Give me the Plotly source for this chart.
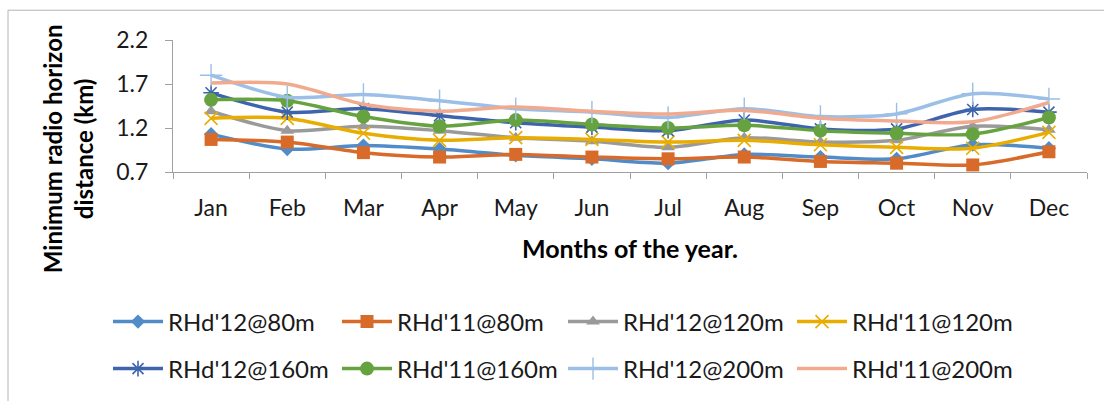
import plotly.graph_objects as go

# Months on the category axis
months = ["Jan", "Feb", "Mar", "Apr", "May", "Jun",
          "Jul", "Aug", "Sep", "Oct", "Nov", "Dec"]

# Minimum radio horizon distance (km) per month
rhd12_80 = [1.13, 0.96, 1.00, 0.96, 0.89, 0.85, 0.80, 0.90, 0.87, 0.85, 1.01, 0.97]
rhd11_80 = [1.07, 1.04, 0.92, 0.87, 0.90, 0.87, 0.85, 0.87, 0.82, 0.80, 0.78, 0.93]
rhd12_120 = [1.39, 1.17, 1.22, 1.17, 1.09, 1.05, 0.98, 1.09, 1.04, 1.06, 1.22, 1.18]
rhd11_120 = [1.31, 1.31, 1.14, 1.06, 1.09, 1.07, 1.04, 1.06, 1.01, 0.98, 0.97, 1.15]
rhd12_160 = [1.60, 1.38, 1.42, 1.34, 1.26, 1.21, 1.17, 1.29, 1.19, 1.19, 1.41, 1.38]
rhd11_160 = [1.52, 1.51, 1.33, 1.22, 1.29, 1.24, 1.20, 1.23, 1.17, 1.14, 1.13, 1.32]
rhd12_200 = [1.80, 1.55, 1.58, 1.51, 1.42, 1.38, 1.32, 1.42, 1.33, 1.36, 1.59, 1.53]
rhd11_200 = [1.71, 1.70, 1.47, 1.39, 1.44, 1.39, 1.36, 1.40, 1.31, 1.28, 1.27, 1.49]

y_ticks = [0.7, 1.2, 1.7, 2.2]

FONT = "Lato"
W, H = 1104, 401
# plot area in pixels
L, R, T, B = 173, 1087, 40, 173


def px_x(p):
    return (p - L) / (R - L)


def px_y(p):
    return (B - p) / (B - T)


series = [
    ("RHd'12@80m", rhd12_80, "#528cc8", dict(symbol="diamond", size=11)),
    ("RHd'11@80m", rhd11_80, "#d86b2a", dict(symbol="square", size=13)),
    ("RHd'12@120m", rhd12_120, "#9a9a9a", dict(symbol="triangle-up", size=12)),
    ("RHd'11@120m", rhd11_120, "#e8ad00", dict(symbol="x-thin-open", size=13, line=dict(width=1.6))),
    ("RHd'12@160m", rhd12_160, "#3d64ad", dict(symbol="asterisk-open", size=13, line=dict(width=1.6))),
    ("RHd'11@160m", rhd11_160, "#66a23f", dict(symbol="circle", size=14)),
    ("RHd'12@200m", rhd12_200, "#9bbfe6", dict(symbol="cross-thin-open", size=16, line=dict(width=1.4))),
    ("RHd'11@200m", rhd11_200, "#f2aa8e", None),
]

# legend slots: (symbol start x, row centre y) in pixels
legend_slots = [(113, 322), (342, 322), (568, 322), (797, 322),
                (113, 369), (342, 369), (568, 369), (797, 369)]

fig = go.Figure()
layout_legends = {}
for i, (name, vals, color, mk) in enumerate(series):
    lname = "legend" if i == 0 else f"legend{i + 1}"
    kw = dict(x=months, y=vals, name=name, legend=lname,
              line=dict(color=color, width=3.5, shape="spline", smoothing=0.8))
    if mk is None:
        kw["mode"] = "lines"
    else:
        m = dict(mk)
        m["color"] = color
        if "line" in m:
            m["line"] = dict(m["line"], color=color)
        kw["mode"] = "lines+markers"
        kw["marker"] = m
    fig.add_trace(go.Scatter(**kw))
    sx, sy = legend_slots[i]
    layout_legends[lname] = dict(
        x=px_x(sx - 5), y=px_y(sy), xanchor="left", yanchor="middle",
        xref="paper", yref="paper", bgcolor="rgba(0,0,0,0)", borderwidth=0,
        font=dict(family=FONT, size=24, color="#1a1a1a"), itemwidth=50,
        orientation="v",
    )

axis_color = "#a0a0a0"
fig.update_layout(
    width=W, height=H,
    margin=dict(l=L, r=W - R, t=T, b=H - B),
    paper_bgcolor="white", plot_bgcolor="white",
    font=dict(family=FONT, size=22, color="#1a1a1a"),
    showlegend=True,
    xaxis=dict(
        type="category", range=[-0.5, 11.5], tickson="boundaries",
        ticks="outside", ticklen=6, tickcolor=axis_color,
        showline=True, linecolor=axis_color, linewidth=1,
        showgrid=False, zeroline=False,
        tickfont=dict(family=FONT, size=23, color="#1a1a1a"),
        ticklabelstandoff=15,
    ),
    yaxis=dict(
        range=[0.7, 2.2], tickvals=y_ticks, ticktext=[f"{v:.1f}" for v in y_ticks],
        ticks="outside", ticklen=7, tickcolor=axis_color,
        showline=True, linecolor=axis_color, linewidth=1,
        showgrid=False, zeroline=False,
        tickfont=dict(family=FONT, size=23, color="#1a1a1a"),
        ticklabelstandoff=12,
    ),
    **layout_legends,
)

# outer chart border
fig.add_shape(type="rect", xref="paper", yref="paper",
              x0=px_x(8), y0=px_y(420), x1=px_x(1130), y1=px_y(10),
              line=dict(color="#b4b4b4", width=1), fillcolor="rgba(0,0,0,0)",
              layer="below")

fig.add_annotation(
    text="<b>Months of the year.</b>", xref="paper", yref="paper",
    x=px_x(630), y=px_y(250), xanchor="center", yanchor="middle",
    showarrow=False, font=dict(family=FONT, size=25, color="#000000"),
)
fig.add_annotation(
    text="<b>Minimum radio horizon<br>distance (km)</b>", xref="paper", yref="paper",
    x=px_x(68), y=px_y(150), xanchor="center", yanchor="middle", textangle=-90,
    showarrow=False, font=dict(family=FONT, size=24, color="#000000"),
)

fig.write_html("out.html")
